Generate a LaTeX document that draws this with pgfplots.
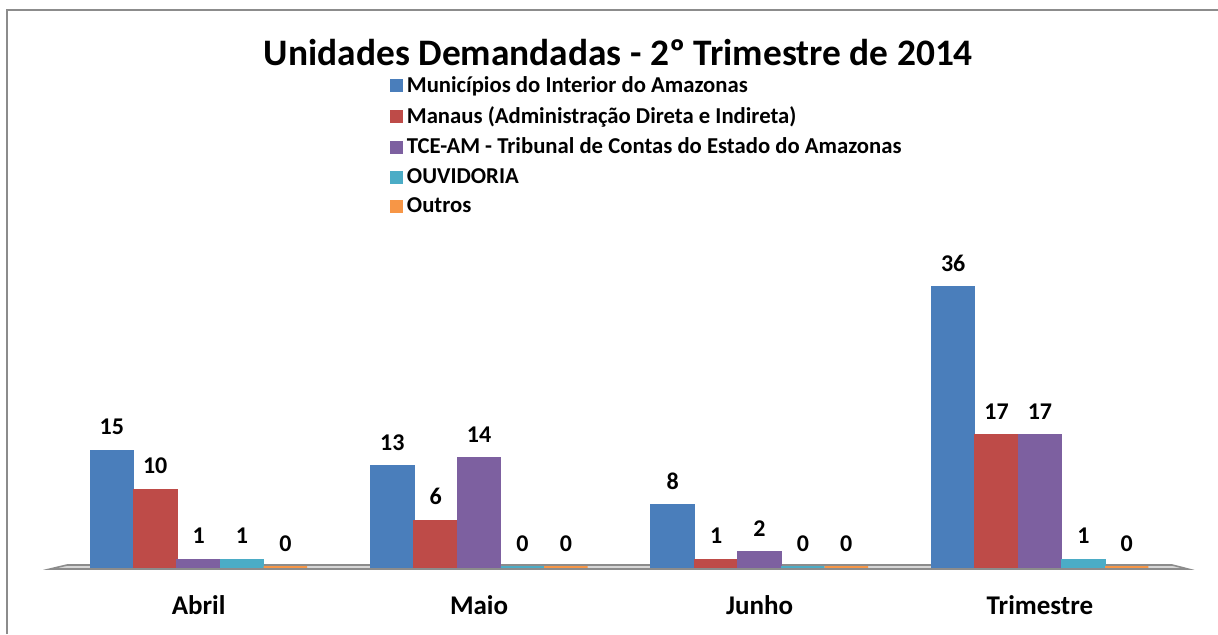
\documentclass[border=0pt]{standalone}
\usepackage{fontspec}
\setmainfont{Carlito}
\usepackage{pgfplots}
\pgfplotsset{compat=1.18}
\definecolor{cblue}{HTML}{4A7EBB}
\definecolor{cred}{HTML}{BE4B48}
\definecolor{cpurple}{HTML}{7D60A0}
\definecolor{caqua}{HTML}{4BACC6}
\definecolor{corange}{HTML}{F79646}
\definecolor{frame}{HTML}{8C8C8C}
\begin{document}
\begin{tikzpicture}
\path[use as bounding box] (0,0) rectangle (609pt,317pt);
\draw[frame, line width=1pt] (3.5pt,0) -- (3.5pt,312pt) -- (609pt,312pt);
\node[font=\bfseries\fontsize{18.7}{22}\selectfont] at (309.2pt,290.5pt) {Unidades Demandadas - 2º Trimestre de 2014};
\begin{axis}[
  at={(25pt,33.5pt)}, anchor=south west,
  scale only axis, width=570pt, height=155.6pt,
  xmin=-0.53, xmax=3.535, ymin=0, ymax=40,
  clip=false,
  axis line style={draw=none},
  ytick=\empty,
  xtick={0,1,2,3},
  xticklabels={Abril,Maio,Junho,Trimestre},
  major tick length=0pt,
  x tick label style={font=\bfseries\fontsize{13.5}{16}\selectfont, anchor=north, yshift=-10.5pt},
  /pgf/number format/assume math mode=true,
  ybar=0pt, bar width=21.7pt,
  nodes near coords,
  every node near coord/.append style={font=\bfseries\fontsize{12}{14}\selectfont, text=black, yshift=4pt},
  legend style={at={(0.298,1.591)}, anchor=north west, draw=none, fill=none,
    font=\bfseries\fontsize{11.35}{13}\selectfont, row sep=1.7pt, inner sep=0pt},
  legend cell align=left,
  legend image code/.code={\fill[#1] (0pt,-2.9pt) rectangle (5.8pt,2.9pt);},
]
\fill[frame!35] (axis cs:-0.53,-0.26) -- (axis cs:-0.469,0.26) -- (axis cs:3.471,0.26) -- (axis cs:3.528,-0.26) -- cycle;
\draw[frame, line width=0.8pt] (axis cs:-0.53,-0.26) -- (axis cs:-0.469,0.26) -- (axis cs:3.471,0.26) -- (axis cs:3.528,-0.26) -- cycle;
\addplot[fill=cblue, draw=cblue, line width=0.6pt] coordinates {(0,15) (1,13) (2,8) (3,36)};
\addplot[fill=cred, draw=cred, line width=0.6pt] coordinates {(0,10) (1,6) (2,1) (3,17)};
\addplot[fill=cpurple, draw=cpurple, line width=0.6pt] coordinates {(0,1) (1,14) (2,2) (3,17)};
\addplot[fill=caqua, draw=caqua, line width=0.6pt] coordinates {(0,1) (1,0) (2,0) (3,1)};
\addplot[fill=corange, draw=corange, line width=0.6pt] coordinates {(0,0) (1,0) (2,0) (3,0)};
\legend{Municípios do Interior do Amazonas, Manaus (Administração Direta e Indireta), TCE-AM - Tribunal de Contas do Estado do Amazonas, OUVIDORIA, Outros}
\end{axis}
\end{tikzpicture}
\end{document}
